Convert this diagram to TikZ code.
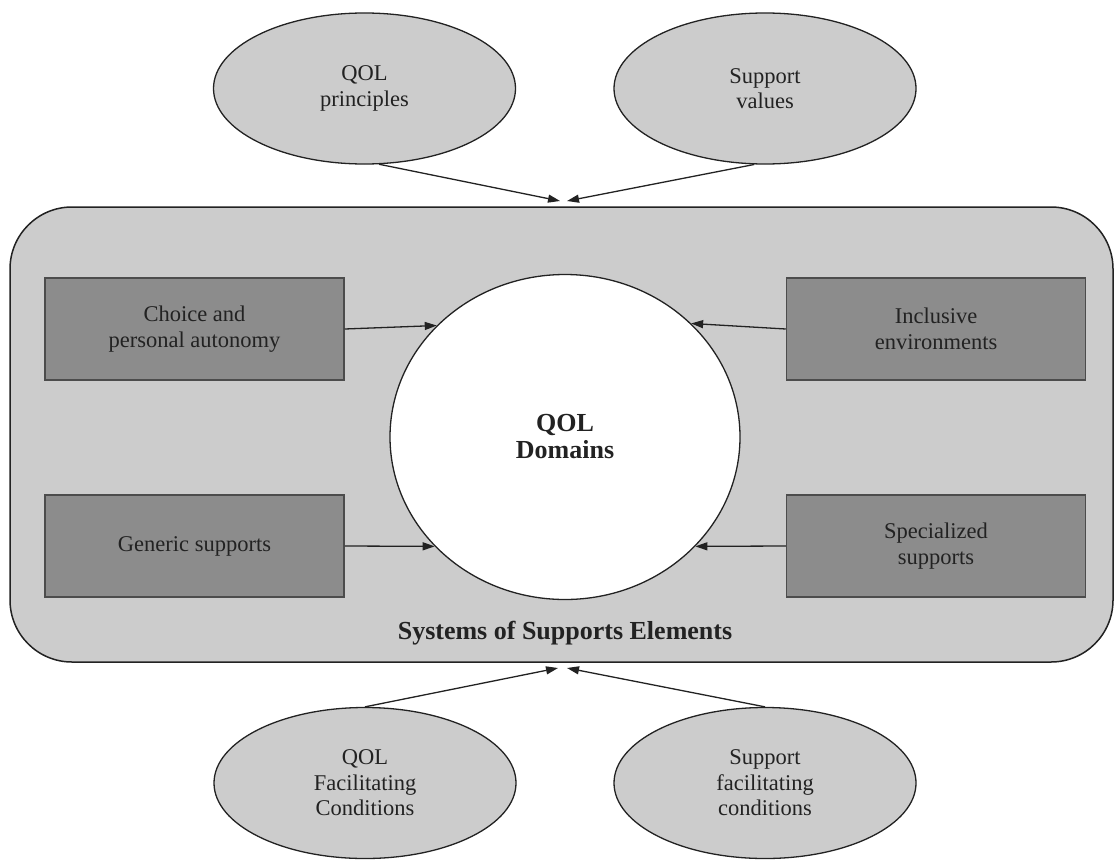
\documentclass[tikz,border=0pt]{standalone}
\usepackage{fontspec}
\setmainfont{Liberation Serif}
\usetikzlibrary{shapes.geometric,arrows.meta}
\definecolor{lightg}{HTML}{CCCCCC}
\definecolor{darkg}{HTML}{8C8C8C}
\definecolor{ink}{HTML}{222222}
\begin{document}
\begin{tikzpicture}[x=1pt,y=-1pt,
  lbl/.style={font=\fontsize{22.5}{25.5}\selectfont, text=ink, align=center},
  boldlbl/.style={font=\fontsize{26}{27}\selectfont\bfseries, text=ink, align=center},
  oval/.style={ellipse, draw=ink, line width=1.3pt, fill=lightg, minimum width=302pt, minimum height=151pt, inner sep=0pt, lbl},
  darkbox/.style={rectangle, draw=black!70, line width=1.5pt, fill=darkg, minimum width=299pt, minimum height=102pt, inner sep=0pt, lbl},
  conn/.style={-{Triangle[length=12pt,width=8pt]}, line width=1.3pt, draw=ink},
]
\useasboundingbox (0,0) rectangle (1115,859);
% outer system box
\node[draw=ink, line width=1.5pt, fill=lightg, rounded corners=62pt, minimum width=1103pt, minimum height=455pt, inner sep=0pt] (sys) at (561.5,434.5) {};
\node[boldlbl] (syslbl) at (565,633) {Systems of Supports Elements};
% central domain
\node[ellipse, draw=ink, line width=1.3pt, fill=white, minimum width=350pt, minimum height=325pt, inner sep=0pt, boldlbl] (dom) at (565,437) {QOL\\Domains};
% support element boxes
\node[darkbox] (b1) at (194.5,329) {Choice and\\personal autonomy};
\node[darkbox] (b2) at (936,329) {Inclusive\\environments};
\node[darkbox] (b3) at (194.5,546) {Generic supports};
\node[darkbox] (b4) at (936,546) {Specialized\\supports};
% ovals
\node[oval] (e1) at (364.5,88.5) {QOL\\principles};
\node[oval] (e2) at (765,88.5) {Support\\values};
\node[oval] (e3) at (365,783) {QOL\\Facilitating\\Conditions};
\node[oval] (e4) at (765,783) {Support\\facilitating\\conditions};
% arrow targets on the system box
\coordinate (t1) at (560,201);
\coordinate (t2) at (567,201);
\coordinate (u1) at (558,668);
\coordinate (u2) at (567,668);
% connectors
\draw[conn] (e1.-79) -- (t1);
\draw[conn] (e2.-98) -- (t2);
\draw[conn] (e3.north) -- (u1);
\draw[conn] (e4.north) -- (u2);
\draw[conn] (b1.east) -- (dom.139);
\draw[conn] (b2.west) -- (dom.42);
\draw[conn] (b3.east) -- (dom.220);
\draw[conn] (b4.west) -- (dom.320);
\end{tikzpicture}
\end{document}
